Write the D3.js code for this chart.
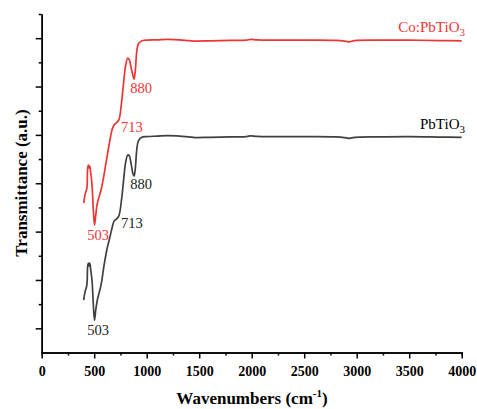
<!DOCTYPE html>
<html>
  <head>
    <title>FTIR spectra of PbTiO3 and Co:PbTiO3</title>
    <script src="https://d3js.org/d3.v7.min.js"></script>
    <style>
      body { margin: 0; background: #fff; }
      text { font-family: "Liberation Serif", "Times New Roman", serif; }
      .axis path, .axis line { stroke: #000; stroke-width: 1.5; }
      .axis text { font-family: "Liberation Serif", "Times New Roman", serif; font-size: 14px; font-weight: bold; fill: #000; }
    </style>
  </head>
  <body>
    <div id="chart"></div>
    <script>
      // Wavenumbers (cm-1) and transmittance (a.u., offset)
      var wavenumbers = [400, 412, 430, 438, 445, 452, 458, 465, 479, 492, 503, 515, 530, 565, 593, 620, 650, 670, 690, 713, 735, 760, 780, 800, 820, 835, 850, 870, 880, 892, 905, 920, 950, 1000, 1100, 1200, 1400, 1460, 1600, 1800, 1950, 1990, 2050, 2200, 2500, 2800, 2900, 2930, 2980, 3200, 3500, 3800, 4000];
      var pbtio3 = [2.17, 2.50, 2.79, 3.58, 3.70, 3.58, 3.70, 3.49, 3.00, 1.96, 1.34, 1.76, 2.17, 2.79, 3.58, 4.24, 4.78, 5.15, 5.44, 5.52, 5.65, 6.31, 7.13, 7.88, 8.17, 8.13, 7.84, 7.38, 7.30, 7.63, 8.37, 8.74, 8.89, 8.93, 8.95, 8.97, 8.92, 8.89, 8.90, 8.92, 8.93, 8.96, 8.94, 8.93, 8.93, 8.92, 8.88, 8.86, 8.90, 8.92, 8.93, 8.91, 8.90];
      var coPbtio3 = [6.18, 6.51, 6.80, 7.63, 7.75, 7.63, 7.71, 7.51, 6.93, 5.89, 5.27, 5.69, 6.18, 6.72, 7.34, 8.04, 8.79, 9.21, 9.41, 9.51, 9.62, 10.32, 11.15, 11.89, 12.18, 12.10, 11.81, 11.44, 11.31, 11.68, 12.43, 12.76, 12.88, 12.92, 12.93, 12.95, 12.90, 12.88, 12.89, 12.91, 12.92, 12.95, 12.93, 12.92, 12.92, 12.91, 12.87, 12.85, 12.90, 12.92, 12.92, 12.90, 12.89];
      var peaks = [503, 713, 880];
      var xTicks = [0, 500, 1000, 1500, 2000, 2500, 3000, 3500, 4000];
      var xMinor = [250, 750, 1250, 1750, 2250, 2750, 3250, 3750];
      var yTicks = [1, 3, 5, 7, 9, 11, 13];
      var yMinor = [2, 4, 6, 8, 10, 12, 14];

      var width = 477,
        height = 409;

      var x = d3.scaleLinear().domain([0, 4000]).range([41.7, 461.7]);
      var y = d3.scaleLinear().domain([0, 14]).range([352.5, 14]);

      var svg = d3.select("#chart").append("svg")
        .attr("width", width)
        .attr("height", height);

      // Axes (left and bottom only)
      svg.append("g").attr("class", "axis")
        .attr("transform", "translate(0," + y(0) + ")")
        .call(d3.axisBottom(x).tickValues(xMinor).tickSize(3).tickFormat(""));
      svg.append("g").attr("class", "axis")
        .attr("transform", "translate(0," + y(0) + ")")
        .call(d3.axisBottom(x).tickValues(xTicks).tickSize(6).tickSizeOuter(0).tickPadding(5).tickFormat(d3.format("d")))
        .selectAll("text").attr("dy", "0.9em");
      svg.append("g").attr("class", "axis")
        .attr("transform", "translate(" + x(0) + ",0)")
        .call(d3.axisLeft(y).tickValues(yMinor).tickSize(3).tickSizeOuter(0).tickFormat(""));
      svg.append("g").attr("class", "axis")
        .attr("transform", "translate(" + x(0) + ",0)")
        .call(d3.axisLeft(y).tickValues(yTicks).tickSize(6).tickSizeOuter(0).tickFormat(""));

      // Axis titles
      var xl = svg.append("text")
        .attr("x", 252).attr("y", 404)
        .attr("text-anchor", "middle")
        .style("font-size", "17px").style("font-weight", "bold");
      xl.append("tspan").text("Wavenumbers (cm");
      xl.append("tspan").attr("dy", -7).style("font-size", "11px").text("-1");
      xl.append("tspan").attr("dy", 7).text(")");

      svg.append("text")
        .attr("transform", "translate(27,183) rotate(-90)")
        .attr("text-anchor", "middle")
        .style("font-size", "17px").style("font-weight", "bold")
        .text("Transmittance (a.u.)");

      // Spectra
      var series = [
        { name: "PbTiO", values: pbtio3, color: "#404040" },
        { name: "Co:PbTiO", values: coPbtio3, color: "#ee3535" }
      ];

      var line = d3.line()
        .x(function (d, i) { return x(wavenumbers[i]); })
        .y(function (d) { return y(d); })
        .curve(d3.curveCatmullRom.alpha(0.5));

      series.forEach(function (s) {
        svg.append("path")
          .attr("d", line(s.values))
          .attr("fill", "none")
          .attr("stroke", s.color)
          .attr("stroke-width", 1.7);

        // Series name at right end
        var t = svg.append("text")
          .attr("x", 465)
          .attr("y", y(s.values[s.values.length - 1]) - 8.5)
          .attr("text-anchor", "end")
          .style("font-size", "15px")
          .attr("fill", s.color === "#404040" ? "#000" : s.color);
        t.append("tspan").text(s.name);
        t.append("tspan").attr("dy", 4).style("font-size", "11px").text("3");

        // Peak labels
        peaks.forEach(function (p) {
          var i = wavenumbers.indexOf(p);
          var v = s.values[i];
          var lab = svg.append("text")
            .style("font-size", "14.5px")
            .attr("fill", s.color === "#404040" ? "#222" : s.color)
            .text(p);
          if (p === 503) {
            lab.attr("x", x(p) + 3.5).attr("y", y(v) + 15).attr("text-anchor", "middle");
          } else if (p === 713) {
            lab.attr("x", x(p) + 4.5).attr("y", y(v) + 9).attr("text-anchor", "start");
          } else {
            lab.attr("x", x(p) + 7).attr("y", y(v) + 13.5).attr("text-anchor", "middle");
          }
        });
      });
    </script>
  </body>
</html>
